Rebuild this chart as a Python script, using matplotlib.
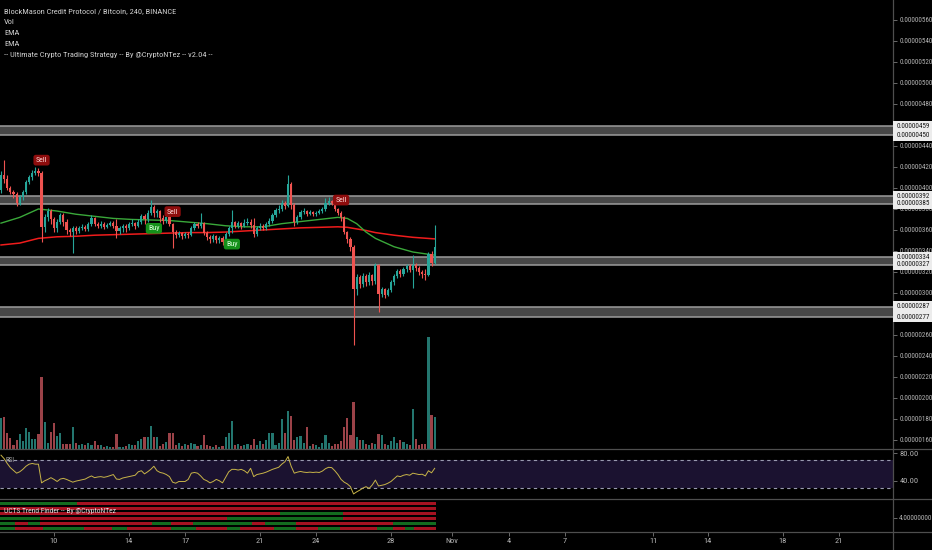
import matplotlib
matplotlib.use("Agg")
import matplotlib.pyplot as plt
import matplotlib.transforms as mtransforms
from matplotlib import font_manager as fm
from matplotlib.textpath import TextPath
from matplotlib.lines import Line2D
from matplotlib.patches import Rectangle
from matplotlib.ticker import FuncFormatter
import numpy as np

# price values in satoshi (1e-8 BTC), 4h candles from Oct 7 04:00
open0 = 398
closes = [412, 409, 400, 396, 394, 386, 391, 396, 406, 410, 414, 416, 414, 363, 372, 378, 370, 362, 368, 374,
          368, 360, 358, 362, 359, 362, 363, 361, 366, 371, 366, 364, 366, 363, 365, 367, 364, 359, 362, 364,
          362, 366, 367, 364, 368, 373, 370, 376, 382, 376, 378, 371, 369, 372, 366, 358, 355, 357, 354, 356,
          355, 362, 366, 364, 367, 357, 353, 351, 354, 350, 352, 349, 356, 362, 368, 364, 367, 364, 367, 368,
          365, 356, 362, 364, 362, 366, 369, 374, 379, 380, 386, 383, 404, 384, 368, 372, 377, 378, 375, 377,
          375, 376, 378, 380, 386, 388, 386, 380, 376, 372, 358, 351, 344, 304, 315, 309, 316, 310, 317, 311,
          327, 299, 304, 298, 303, 310, 316, 321, 318, 323, 326, 322, 327, 324, 320, 318, 317, 337, 329, 344]
highs = [416, 427, 412, 402, 398, 396, 393, 398, 408, 412, 417, 420, 419, 416, 375, 381, 380, 372, 370, 376,
         376, 370, 362, 364, 364, 364, 366, 365, 368, 374, 372, 368, 369, 368, 367, 369, 369, 370, 364, 366,
         366, 368, 370, 368, 370, 375, 375, 379, 389, 384, 380, 379, 374, 375, 374, 367, 360, 359, 358, 358,
         358, 364, 368, 368, 376, 368, 359, 355, 356, 355, 354, 354, 358, 364, 379, 369, 369, 368, 370, 371,
         370, 371, 364, 367, 366, 368, 371, 376, 381, 384, 389, 388, 412, 406, 386, 374, 379, 381, 379, 379,
         378, 378, 380, 382, 390, 391, 389, 388, 381, 378, 373, 359, 353, 346, 318, 317, 319, 318, 320, 318,
         329, 328, 306, 305, 305, 312, 318, 323, 323, 325, 328, 328, 336, 329, 326, 322, 323, 339, 340, 365]
lows = [395, 405, 398, 394, 390, 383, 384, 389, 394, 404, 408, 412, 411, 349, 358, 369, 366, 358, 358, 366,
        364, 356, 354, 338, 356, 357, 360, 359, 359, 364, 364, 362, 362, 361, 362, 364, 362, 352, 356, 358,
        358, 360, 364, 361, 363, 366, 366, 368, 374, 372, 372, 368, 366, 367, 364, 343, 352, 353, 351, 352,
        352, 354, 360, 362, 362, 355, 350, 348, 349, 348, 348, 346, 348, 354, 357, 362, 362, 361, 363, 365,
        362, 353, 354, 360, 360, 360, 364, 367, 372, 376, 378, 380, 382, 380, 364, 366, 370, 375, 373, 374,
        373, 373, 375, 376, 378, 384, 384, 378, 374, 369, 356, 348, 340, 250, 298, 305, 306, 307, 308, 308,
        309, 282, 296, 295, 297, 301, 308, 314, 315, 316, 320, 320, 305, 321, 317, 314, 312, 316, 326, 328]
volumes = [31, 32, 16, 11, 4, 9, 15, 8, 21, 17, 10, 10, 15, 72, 27, 6, 17, 26, 13, 16,
           5, 5, 5, 22, 6, 4, 5, 4, 6, 4, 8, 4, 4, 2, 3, 2, 2, 15, 2, 2,
           3, 5, 4, 4, 8, 10, 12, 12, 23, 12, 12, 3, 5, 7, 16, 16, 4, 6, 3, 5,
           4, 6, 5, 3, 4, 14, 4, 3, 2, 4, 2, 3, 12, 16, 28, 4, 5, 3, 4, 5,
           4, 10, 4, 8, 5, 9, 16, 16, 4, 6, 30, 16, 38, 33, 9, 12, 13, 6, 22, 3,
           5, 4, 2, 6, 14, 6, 3, 5, 5, 8, 22, 31, 14, 47, 12, 9, 9, 5, 4, 6,
           5, 15, 14, 5, 4, 8, 12, 6, 9, 7, 5, 4, 40, 10, 4, 5, 5, 112, 34, 32]
rsi = [77, 72, 65, 59, 55, 51, 53, 56.5, 61, 64, 65, 64, 64, 37, 40, 42, 44.5, 42, 39, 42.5,
       43.5, 42, 40, 38, 39.5, 40.5, 41.5, 42.5, 45, 47, 44.5, 45.5, 46, 45, 46, 47.5, 49, 42.5, 42, 44,
       45, 46, 47, 48, 53, 54.5, 50, 53, 56.5, 61, 54.5, 52, 51, 49, 46, 38, 36.5, 39, 39, 39,
       42, 51, 52, 51, 47, 42, 40, 37, 39, 42, 40, 37, 45, 53, 56.5, 56.5, 55.5, 56.5, 54.5, 51,
       58, 46, 49, 50, 51, 52.5, 54.5, 56.5, 58, 59.5, 64, 67.5, 75, 61, 51, 52.5, 53.5, 52.5, 52, 52.5,
       52, 52.5, 52, 54, 57.5, 59.5, 59, 54.5, 49, 42, 38, 35.5, 31.5, 21, 24, 26.5, 29.5, 31.5, 29, 34,
       41, 32.5, 33.5, 34.5, 36.5, 39, 43, 47, 46, 48, 49, 48, 51, 50, 49, 49.5, 47, 54.5, 51.5, 58]

ema_idx = [0, 6, 12, 18, 24, 30, 36, 42, 48, 54, 60, 66, 72, 78, 84, 90, 96, 102, 108, 111, 114, 117, 120, 126, 132, 139]
ema_fast = [366.5, 372, 380, 378, 375, 373, 371, 370, 369.5, 369, 367.5, 366, 364, 363, 363, 366, 368, 370, 372,
            371, 366, 358, 352, 344, 339, 336]
ema_slow = [345.7, 347.5, 352, 353.5, 354, 355, 355.5, 356, 356.5, 357, 357.5, 357.5, 358, 359, 360, 361, 362,
            362.5, 363, 362.5, 361, 359.5, 357.5, 355, 353, 351.5]

# support / resistance zones (low, high)
zones = [(450, 459), (385, 392), (327, 334), (277, 287)]

# price scale ticks (the 460 and 280 ones sit right under the zone labels)
price_ticks = [160, 180, 200, 220, 240, 260, 300, 320, 340, 360, 380, 400, 420, 440, 480, 500, 520, 540, 560]

sell_idx = [13, 55, 109]
buy_idx = [49, 74]

# UCTS trend finder rows: (colour, run length in candles), top row first
trend_rows = [
    [('g', 25), ('r', 115)],
    [('r', 140)],
    [('r', 90), ('g', 20), ('r', 30)],
    [('g', 13), ('r', 60), ('g', 37), ('r', 30)],
    [('g', 5), ('r', 4), ('g', 4), ('r', 36), ('g', 6), ('r', 7), ('g', 19), ('r', 4), ('g', 10), ('r', 31),
     ('g', 14)],
    [('g', 5), ('r', 9), ('g', 13), ('r', 9), ('g', 5), ('r', 14), ('g', 8), ('r', 10), ('g', 4), ('r', 11),
     ('g', 7), ('r', 7), ('g', 7), ('r', 12), ('g', 5), ('r', 4), ('g', 3), ('r', 7)],
]
trend_levels = [7, 6, 5, 4, 3, 2]

xtick_pos = [17, 41, 59, 83, 101, 125, 144.6, 162.8, 180.8, 209, 226.6, 250.6, 268.6]
xtick_labels = ['10', '14', '17', '21', '24', '28', 'Nov', '4', '7', '11', '14', '18', '21']

legend_lines = ['BlockMason Credit Protocol / Bitcoin, 240, BINANCE', 'Vol', 'EMA', 'EMA',
                '-- Ultimate Crypto Trading Strategy -- By @CryptoNTez -- v2.04 --']
trend_title = 'UCTS Trend Finder -- By @CryptoNTez'

BG = '#000000'
UP = '#26a69a'
DOWN = '#ef5350'
VUP = '#23766f'
VDOWN = '#9b4248'
TXT = '#b4b4b4'
SEP = '#4e4e4e'

# pick a narrow face if one is installed, the chart uses a condensed UI font
installed = {(f.name, f.stretch) for f in fm.fontManager.ttflist}
names = {n for n, s in installed}
font_prop = fm.FontProperties(family='Liberation Sans')
for cand in ['Liberation Sans Narrow', 'Roboto Condensed', 'Noto Sans Condensed', 'Open Sans Condensed',
             'DejaVu Sans Condensed']:
    if cand in names:
        font_prop = fm.FontProperties(family=cand)
        break
FAMILY = font_prop.get_family()


def fit_size(s, target_px):
    w = TextPath((0, 0), s, size=10, prop=font_prop).get_extents().width * 100 / 72
    return 10 * target_px / w


def tprops(size):
    return dict(family=FAMILY, fontsize=size)


PRICE_FS = min(fit_size('0.00000560', 33), 7.5)
TITLE_FS = min(fit_size(legend_lines[0], 172), 7.5)
UCTS_FS = min(fit_size(trend_title, 112), 7.5)
LABEL_FS = min(fit_size('Sell', 10.5), 7)
SMALL_FS = 6.0

W, H = 932, 550
RIGHT = 893
fig = plt.figure(figsize=(W / 100, H / 100), dpi=100, facecolor=BG)


def fy(py):
    return 1 - py / H


main_rect = [0, fy(449), RIGHT / W, 449 / H]
ax_v = fig.add_axes(main_rect)
ax = fig.add_axes(main_rect, sharex=ax_v)
ax_r = fig.add_axes([0, fy(499), RIGHT / W, 50 / H], sharex=ax_v)
ax_t = fig.add_axes([0, fy(532), RIGHT / W, 33 / H], sharex=ax_v)

for a in (ax_v, ax, ax_r, ax_t):
    a.set_facecolor(BG)
    for s in a.spines.values():
        s.set_visible(False)
ax.patch.set_alpha(0)
ax_v.set_zorder(1)
ax.set_zorder(2)

x = np.arange(len(closes))
opens = np.array([open0] + closes[:-1])
c = np.array(closes)
up = c >= opens

# volume
ax_v.bar(x, volumes, width=0.7, color=[VUP if u else VDOWN for u in up], linewidth=0)
ax_v.set_ylim(0, max(volumes) / 0.25)
ax_v.set_yticks([])
ax_v.tick_params(axis='x', bottom=False, labelbottom=False)

# zones
for lo, hi in zones:
    ax.axhspan(lo, hi, color='#474747', lw=0, zorder=1)
    ax.axhline(lo, color='#9c9c9c', lw=1.1, zorder=1.1)
    ax.axhline(hi, color='#9c9c9c', lw=1.1, zorder=1.1)

# emas
ax.plot(ema_idx, ema_slow, color='#f01c1c', lw=1.1, zorder=2)
ax.plot(ema_idx, ema_fast, color='#3aa83a', lw=1.0, zorder=2)

# candles
cols = [UP if u else DOWN for u in up]
ax.vlines(x, lows, highs, colors=cols, lw=0.8, zorder=3)
body_lo = np.minimum(opens, c)
body_h = np.maximum(np.abs(c - opens), 0.8)
ax.bar(x, body_h, bottom=body_lo, width=0.7, color=cols, linewidth=0, zorder=3)

for i in sell_idx:
    ax.annotate('Sell', xy=(i, highs[i]), xytext=(0, 11), textcoords='offset pixels',
                ha='center', va='center', color='#ffd6d6', zorder=5, **tprops(LABEL_FS),
                bbox=dict(boxstyle='round,pad=0.3', fc='#8e0d0d', ec='none'))
for i in buy_idx:
    ax.annotate('Buy', xy=(i, lows[i]), xytext=(0, -11), textcoords='offset pixels',
                ha='center', va='center', color='#d9ffd9', zorder=5, **tprops(LABEL_FS),
                bbox=dict(boxstyle='round,pad=0.3', fc='#15901a', ec='none'))

ax.set_xlim(-0.32, 285.9)
ax.set_ylim(151.4, 579.0)
ax.yaxis.tick_right()
ax.set_yticks(price_ticks)
ax.yaxis.set_major_formatter(FuncFormatter(lambda v, p: f"{v * 1e-8:.8f}"))
ax.tick_params(axis='x', bottom=False, labelbottom=False)


def style_right(a, size):
    a.tick_params(axis='y', colors=TXT, length=3, width=0.7, pad=1.5)
    a.tick_params(axis='y', color='#6a6a6a')
    for lab in a.get_yticklabels():
        lab.set_fontproperties(font_prop)
        lab.set_fontsize(size)


style_right(ax, PRICE_FS)

# highlighted zone price labels on the price scale
blend = mtransforms.blended_transform_factory(ax.transAxes, ax.transData)
for lo, hi in zones:
    ax.add_patch(Rectangle((1.0, lo - 5), W / RIGHT - 1.0, hi - lo + 10, transform=blend,
                           fc='#ececec', ec='none', clip_on=False, zorder=9))
    for v in (hi, lo):
        ax.text(1.0 + 3.5 / RIGHT, v, f"{v * 1e-8:.8f}", transform=blend, ha='left', va='center',
                color='#151515', clip_on=False, zorder=10, **tprops(PRICE_FS))

# RSI pane
ax_r.axhspan(30, 70, color='#1b1230', lw=0)
ax_r.axhline(70, color='#9a9ab0', lw=0.8, ls=(0, (3, 3)))
ax_r.axhline(30, color='#9a9ab0', lw=0.8, ls=(0, (3, 3)))
ax_r.plot(x, rsi, color='#c8b448', lw=0.7)
ax_r.set_ylim(13.7, 85.9)
ax_r.yaxis.tick_right()
ax_r.set_yticks([80, 40])
ax_r.yaxis.set_major_formatter(FuncFormatter(lambda v, p: f"{v:.2f}"))
ax_r.tick_params(axis='x', bottom=False, labelbottom=False)
style_right(ax_r, SMALL_FS)
ax_r.text(5 / RIGHT, 0.78, 'RSI', transform=ax_r.transAxes, color='#a8a8a8', va='center', ha='left',
          **tprops(PRICE_FS))

# trend finder pane
tcol = {'g': '#136b1f', 'r': '#a51221'}
for level, runs in zip(trend_levels, trend_rows):
    start = 0
    for col, n in runs:
        ax_t.broken_barh([(start - 0.5, n)], (level - 0.3, 0.6), facecolors=tcol[col], lw=0)
        start += n
ax_t.set_ylim(1.2, 7.8)
ax_t.yaxis.tick_right()
ax_t.set_yticks([4])
ax_t.set_yticklabels(['4.00000000'])
style_right(ax_t, PRICE_FS)
ax_t.text(4 / RIGHT, 0.63, trend_title, transform=ax_t.transAxes,
          color='#dcdcdc', va='center', ha='left', **tprops(UCTS_FS))
ax_t.set_xticks(xtick_pos)
ax_t.set_xticklabels(xtick_labels)
ax_t.tick_params(axis='x', colors=TXT, length=3, width=0.7, pad=1.5)
ax_t.tick_params(axis='x', color='#6a6a6a')
for lab in ax_t.get_xticklabels():
    lab.set_fontproperties(font_prop)
    lab.set_fontsize(SMALL_FS)

# pane separators and price scale border
for py in (449, 499, 532):
    fig.add_artist(Line2D([0, 1], [fy(py), fy(py)], transform=fig.transFigure, color=SEP, lw=0.9))
fig.add_artist(Line2D([RIGHT / W, RIGHT / W], [0, 1], transform=fig.transFigure, color=SEP, lw=0.9))

# legend text top-left
for k, line in enumerate(legend_lines):
    fig.text(4 / W, fy(11 + 11 * k), line, color='#cfcfcf', va='center', ha='left', **tprops(TITLE_FS))

fig.savefig('out.png', dpi=100, facecolor=BG)
plt.close(fig)
